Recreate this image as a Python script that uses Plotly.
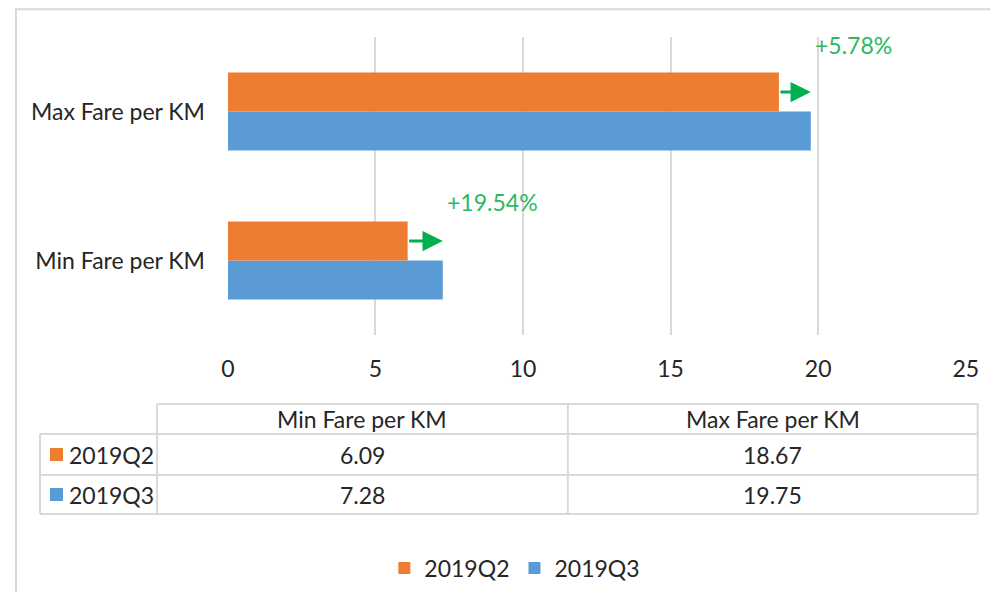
import plotly.graph_objects as go

categories = ["Min Fare per KM", "Max Fare per KM"]
series_names = ["2019Q2", "2019Q3"]
q2_values = [6.09, 18.67]
q3_values = [7.28, 19.75]
x_ticks = [0, 5, 10, 15, 20, 25]

ORANGE = "#ed7d31"
BLUE = "#5b9bd5"
GREEN = "#00b050"
LABEL_GREEN = "#2cb862"
GRID = "#d9d9d9"
TEXT = "#262626"
FONT = "Lato"
SIZE = 23

# figure sits inside the page body margin; helpers map screen pixels -> paper
W, H = 986, 584
X0, XS = 14, 0.98
Y0 = 8


def px(x):
    return (x - X0) / XS / W


def py(y):
    return 1 - (y - Y0) / H


BARGAP = 0.477
half_bar = (1 - BARGAP) / 4  # centre of the upper bar in a group

fig = go.Figure()
# horizontal grouped bars stack upwards by trace order, so Q3 goes first (lower)
fig.add_trace(go.Bar(y=categories, x=q3_values, orientation="h", name=series_names[1],
                     marker=dict(color=BLUE, line=dict(width=0))))
fig.add_trace(go.Bar(y=categories, x=q2_values, orientation="h", name=series_names[0],
                     marker=dict(color=ORANGE, line=dict(width=0))))

annotations = []
label_lift = [39, 47]
for i, (a, b) in enumerate(zip(q2_values, q3_values)):
    yc = i + half_bar
    annotations.append(dict(
        x=b, y=yc, ax=a, ay=yc, xref="x", yref="y", axref="x", ayref="y",
        text="", showarrow=True, arrowhead=2, arrowwidth=3, arrowsize=1.35,
        arrowcolor=GREEN, standoff=0, startstandoff=0,
    ))
    annotations.append(dict(
        x=b, y=yc, xref="x", yref="y", xanchor="left", yanchor="middle",
        xshift=2, yshift=label_lift[i], showarrow=False,
        text=f"+{(b / a - 1) * 100:.2f}%",
        font=dict(family=FONT, size=SIZE, color=LABEL_GREEN),
    ))

# data table below the chart
tbl_left, tbl_mid1, tbl_mid2, tbl_right = 39, 156, 567, 977
row_y = [404, 434, 475, 514]
line_style = dict(color=GRID, width=2)
shapes = [
    # outer chart frame
    dict(type="rect", xref="paper", yref="paper", x0=0.001, x1=1.05, y0=0.998, y1=-0.05,
         line=dict(color=GRID, width=2), layer="below"),
    dict(type="line", xref="paper", yref="paper", x0=px(tbl_mid1), x1=px(tbl_right),
         y0=py(row_y[0]), y1=py(row_y[0]), line=line_style),
]
for y in row_y[1:]:
    shapes.append(dict(type="line", xref="paper", yref="paper", x0=px(tbl_left), x1=px(tbl_right),
                       y0=py(y), y1=py(y), line=line_style))
shapes.append(dict(type="line", xref="paper", yref="paper", x0=px(tbl_left), x1=px(tbl_left),
                   y0=py(row_y[1]), y1=py(row_y[3]), line=line_style))
for x in (tbl_mid1, tbl_mid2, tbl_right):
    shapes.append(dict(type="line", xref="paper", yref="paper", x0=px(x), x1=px(x),
                       y0=py(row_y[0]), y1=py(row_y[3]), line=line_style))

col_centres = [(tbl_mid1 + tbl_mid2) / 2, (tbl_mid2 + tbl_right) / 2]
txt_font = dict(family=FONT, size=SIZE, color=TEXT)
for c, name in zip(col_centres, categories):
    annotations.append(dict(x=px(c), y=py((row_y[0] + row_y[1]) / 2), xref="paper", yref="paper",
                            xanchor="center", yanchor="middle",
                            text=name, showarrow=False, font=txt_font))
for r, (name, vals, color) in enumerate(zip(series_names, [q2_values, q3_values], [ORANGE, BLUE])):
    yc = (row_y[r + 1] + row_y[r + 2]) / 2
    shapes.append(dict(type="rect", xref="paper", yref="paper", x0=px(49), x1=px(62),
                       y0=py(yc - 6.5), y1=py(yc + 6.5), fillcolor=color, line=dict(width=0)))
    annotations.append(dict(x=px(66), y=py(yc), xref="paper", yref="paper",
                            xanchor="left", yanchor="middle",
                            text=name, showarrow=False, font=txt_font))
    for c, v in zip(col_centres, vals):
        annotations.append(dict(x=px(c), y=py(yc), xref="paper", yref="paper",
                                xanchor="center", yanchor="middle",
                                text=f"{v:.2f}", showarrow=False, font=txt_font))

fig.update_layout(
    width=W, height=H,
    margin=dict(l=0, r=0, t=0, b=0),
    paper_bgcolor="white", plot_bgcolor="white",
    barmode="group", bargap=BARGAP, bargroupgap=0,
    font=dict(family=FONT, size=SIZE, color=TEXT),
    xaxis=dict(domain=[px(227), px(965)], range=[0, 25], autorange=False, tickvals=x_ticks,
               showgrid=True, gridcolor=GRID, gridwidth=2, zeroline=False, showline=False,
               ticks="", ticklabelstandoff=18, ticklabeloverflow="allow",
               tickfont=dict(family=FONT, size=SIZE, color=TEXT)),
    yaxis=dict(domain=[py(335), py(37)], type="category", categoryorder="array",
               categoryarray=categories, range=[-0.5, 1.5], autorange=False,
               showgrid=False, zeroline=False, showline=False,
               ticks="", ticklabelstandoff=22, tickfont=dict(family=FONT, size=SIZE, color=TEXT)),
    legend=dict(orientation="h", traceorder="reversed", x=px(514), xanchor="center",
                y=py(568), yanchor="middle", font=dict(family=FONT, size=SIZE, color=TEXT)),
    shapes=shapes,
    annotations=annotations,
    showlegend=True,
)

fig.write_html("out.html")
